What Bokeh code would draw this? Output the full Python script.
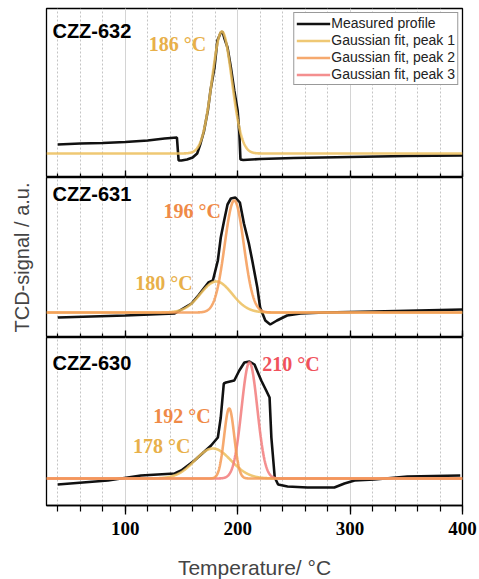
import numpy as np
from bokeh.plotting import figure
from bokeh.layouts import column
from bokeh.models import Range1d, SingleIntervalTicker, FixedTicker, Label, Legend, LegendItem
from bokeh.embed import file_html
from bokeh.resources import INLINE

# ---------------- data ----------------
samples = ["CZZ-632", "CZZ-631", "CZZ-630"]
legend_labels = ["Measured profile", "Gaussian fit, peak 1", "Gaussian fit, peak 2", "Gaussian fit, peak 3"]
x_tick_values = [100, 200, 300, 400]

# measured TCD profiles (temperature / °C, signal / a.u.)
t632 = [40, 60, 80, 100, 120, 135, 146, 147.5, 150, 155, 160, 164, 167, 170, 173.5, 176, 179.4, 182, 185, 186.5,
        188, 191, 194, 197, 200, 201.5, 202.5, 205, 220, 250, 300, 350, 400]
s632 = [33, 34, 34.5, 35.5, 37, 39, 40, 17, 17, 18, 20, 24, 34, 46, 67, 88, 110, 137, 145, 146,
        140, 130, 110, 87, 67, 45, 18, 17.5, 18.5, 19.5, 20.5, 21.5, 22]

t631 = [40, 70, 100, 144, 159, 165, 170.5, 174, 178, 182.4, 185, 188, 191, 194, 198, 202, 205.6, 210, 213,
        217.5, 220, 224.6, 229, 235, 244, 256, 277, 321, 400]
s631 = [20, 21, 22, 24, 34, 42, 50, 55, 57, 77, 100, 117, 133, 139, 140, 135, 114, 94, 77,
        50, 30, 17, 13, 17, 22, 24, 25, 26, 28]

t630 = [40, 84.6, 114, 144, 149.8, 161.6, 170.5, 176.4, 182.4, 185, 187.7, 189.6, 197, 201.5, 206, 210.5, 215,
        221, 225.4, 228.4, 230, 233, 236, 244.4, 262, 286, 295, 304, 321.5, 351, 398]
s630 = [21, 25, 30, 32, 35, 45, 54, 60, 68, 88, 122, 123, 125, 135, 143, 144, 141,
        125, 115, 108, 68, 28, 21, 19, 18, 18, 22, 25, 26, 29, 30]

# Gaussian fit parameters: centre / °C, height, sigma / °C, baseline
fit632_centres = [186.0]
fit632_heights = [122.0]
fit632_sigmas = [8.8]
fit632_base = 24.0

fit631_centres = [181.0, 197.0]
fit631_heights = [31.0, 112.0]
fit631_sigmas = [14.0, 8.5]
fit631_base = 25.0

fit630_centres = [178.0, 192.5, 210.5]
fit630_heights = [30.0, 70.0, 116.0]
fit630_sigmas = [16.0, 4.5, 7.0]
fit630_base = 27.0

peak_labels_632 = ["186 °C"]
peak_labels_631 = ["180 °C", "196 °C"]
peak_labels_630 = ["178 °C", "192 °C", "210 °C"]

# ---------------- style ----------------
SANS = "Liberation Sans"
SERIF = "Liberation Serif"
BLACK = "#111111"
FIT_COLORS = ["#ECBE5C", "#F49A55", "#F27B7B"]
TXT_COLORS = ["#E8B04A", "#EF8A47", "#F0525C"]
X_RANGE = (30, 400)

t_grid = np.linspace(X_RANGE[0], X_RANGE[1], 1481)


def gauss(c, h, s, base):
    return base + h * np.exp(-0.5 * ((t_grid - c) / s) ** 2)


def make_panel(frame_h, top, bottom, show_xlabels):
    p = figure(frame_width=416, frame_height=frame_h,
               x_range=Range1d(*X_RANGE), y_range=Range1d(0, frame_h),
               output_backend="svg", toolbar_location=None,
               min_border_left=46, min_border_right=17,
               min_border_top=top, min_border_bottom=bottom)
    p.outline_line_color = "black"
    p.outline_line_width = 1.3
    p.outline_line_alpha = 1
    p.background_fill_color = "white"
    p.border_fill_color = "white"
    ticker = SingleIntervalTicker(interval=100, num_minor_ticks=5)
    p.xaxis.ticker = ticker
    ax = p.xaxis[0]
    ax.axis_line_color = "black"
    ax.axis_line_width = 1.3
    ax.major_tick_line_color = "black"
    ax.minor_tick_line_color = "black"
    ax.major_tick_line_width = 1.3
    ax.minor_tick_line_width = 1.2
    if show_xlabels:
        ax.major_tick_in = 0
        ax.major_tick_out = 9
        ax.minor_tick_in = 0
        ax.minor_tick_out = 6
        ax.major_label_text_font = SERIF
        ax.major_label_text_font_style = "bold"
        ax.major_label_text_font_size = "19px"
        ax.major_label_text_color = "black"
        ax.major_label_standoff = 7
        ax.axis_label = "Temperature/ °C"
        ax.axis_label_text_font = SANS
        ax.axis_label_text_font_style = "normal"
        ax.axis_label_text_font_size = "21px"
        ax.axis_label_standoff = 18
    else:
        ax.major_tick_in = 7
        ax.major_tick_out = 0
        ax.minor_tick_in = 4
        ax.minor_tick_out = 0
        ax.major_label_overrides = {v: "" for v in x_tick_values}
        ax.major_label_text_font_size = "0px"
        ax.major_label_standoff = 0
    p.xgrid.grid_line_color = "#d4d4d4"
    p.xgrid.grid_line_width = 1
    p.xgrid.minor_grid_line_color = "#c4c4c4"
    p.xgrid.minor_grid_line_dash = "2 2"
    p.xgrid.minor_grid_line_width = 1
    p.ygrid.visible = False
    return p


p1 = make_panel(169, 8, 0, False)
p2 = make_panel(160, 0, 0, False)
p3 = make_panel(168, 0, 74, True)

for p in (p1, p3):
    p.yaxis.visible = False
ya = p2.yaxis[0]
ya.ticker = FixedTicker(ticks=[])
ya.major_tick_line_color = None
ya.minor_tick_line_color = None
ya.axis_line_color = None
ya.major_label_standoff = 0
ya.axis_label = "TCD-signal / a.u."
ya.axis_label_text_font = SANS
ya.axis_label_text_font_style = "normal"
ya.axis_label_text_font_size = "20px"
ya.axis_label_standoff = 14

panels = [
    (p1, t632, s632, fit632_centres, fit632_heights, fit632_sigmas, fit632_base, peak_labels_632,
     [0], [(121, 134)], 147),
    (p2, t631, s631, fit631_centres, fit631_heights, fit631_sigmas, fit631_base, peak_labels_631,
     [0, 1], [(109, 55), (134, 127)], 144),
    (p3, t630, s630, fit630_centres, fit630_heights, fit630_sigmas, fit630_base, peak_labels_630,
     [0, 1, 2], [(107, 60), (125, 90), (222, 142)], 143),
]

legend_renderers = {}
for idx, (p, tt, ss, cs, hs, sg, base, labs, kinds, lab_pos, name_y) in enumerate(panels):
    r_meas = p.line(tt, ss, line_color=BLACK, line_width=2.6)
    if idx == 0:
        legend_renderers["meas"] = r_meas
    # draw order: peak 1, peak 3, peak 2
    order = sorted(range(len(cs)), key=lambda i: {0: 0, 2: 1, 1: 2}[kinds[i]])
    for i in order:
        k = kinds[i]
        r = p.line(t_grid, gauss(cs[i], hs[i], sg[i], base), line_color=FIT_COLORS[k],
                   line_width=2.6, line_alpha=0.85)
        if idx == 0:
            legend_renderers[k] = r
    for i, (lx, lyy) in enumerate(lab_pos):
        p.add_layout(Label(x=lx, y=lyy, text=labs[i], text_font=SERIF, text_font_style="bold",
                           text_font_size="20px", text_color=TXT_COLORS[kinds[i]],
                           text_baseline="middle", text_align="left"))
    p.add_layout(Label(x=35.3, y=name_y, text=samples[idx], text_font=SANS, text_font_style="bold",
                       text_font_size="20px", text_color="black", text_baseline="middle",
                       text_align="left"))

# legend-only renderers (no visible data) for peak 2 and 3 in the top panel
r_p2 = p1.line(x=[np.nan], y=[np.nan], line_color=FIT_COLORS[1], line_width=2.6, line_alpha=0.85)
r_p3 = p1.line(x=[np.nan], y=[np.nan], line_color=FIT_COLORS[2], line_width=2.6, line_alpha=0.85)

legend = Legend(items=[
    LegendItem(label=legend_labels[0], renderers=[legend_renderers["meas"]]),
    LegendItem(label=legend_labels[1], renderers=[legend_renderers[0]]),
    LegendItem(label=legend_labels[2], renderers=[r_p2]),
    LegendItem(label=legend_labels[3], renderers=[r_p3]),
], location="top_right")
legend.margin = 4
legend.padding = 2
legend.spacing = 1
legend.glyph_width = 34
legend.glyph_height = 15
legend.label_height = 15
legend.label_standoff = 1
legend.label_text_font = SANS
legend.label_text_font_size = "14px"
legend.label_text_color = "#222222"
legend.border_line_color = "#333333"
legend.border_line_width = 1.6
legend.background_fill_alpha = 1
p1.add_layout(legend)

layout = column(p1, p2, p3, spacing=0)
open("out.html", "w").write(file_html(layout, INLINE))
